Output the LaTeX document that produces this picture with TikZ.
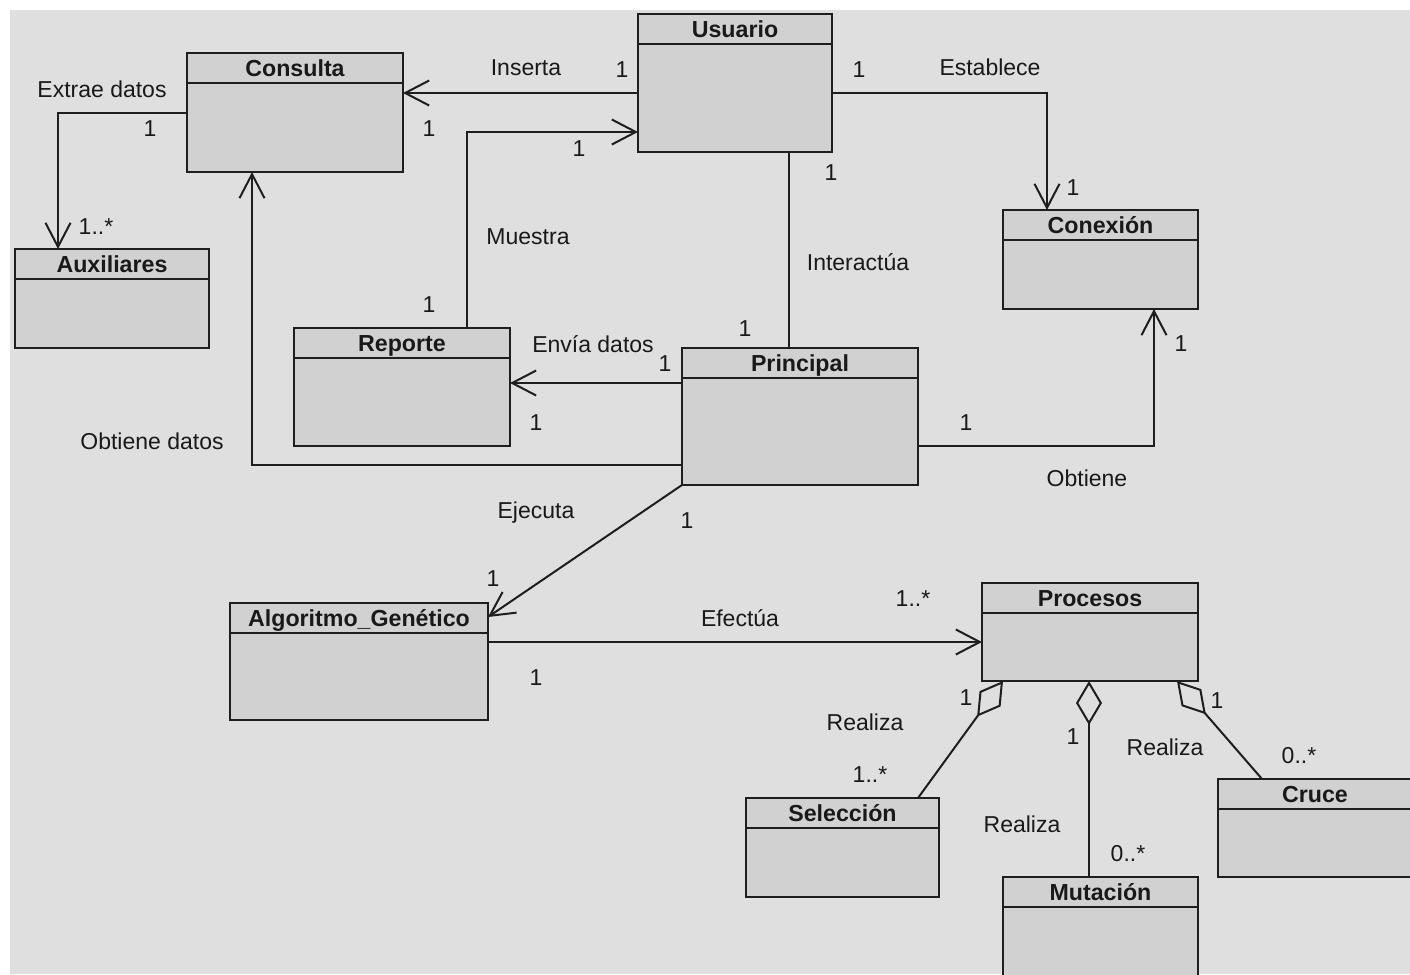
\documentclass[tikz,border=0pt]{standalone}
\usepackage{fontspec}
\setmainfont{Liberation Sans}
\usetikzlibrary{arrows.meta,calc,fit}
\definecolor{canvasgray}{RGB}{223,223,223}
\definecolor{classfill}{RGB}{209,209,209}
\definecolor{inkline}{RGB}{30,30,30}
\definecolor{inktext}{RGB}{25,25,25}

% one UML class: name, x1, y1, x2, y2, title
\newcommand\umlclass[6]{%
  \node[classbox, fit={(#2,#3) (#4,#5)}] (#1) {};
  \draw[classline] ($(#1.north west)+(0,30)$) -- ($(#1.north east)+(0,30)$);
  \node[classtitle] (#1-title) at ($(#1.north)+(0,15)$) {#6};
}

\begin{document}
\begin{tikzpicture}[x=0.5pt,y=-0.5pt,
  classbox/.style={draw=inkline, fill=classfill, line width=1pt, inner sep=0pt, outer sep=0pt},
  classline/.style={draw=inkline, line width=1pt},
  classtitle/.style={font=\fontsize{11.6}{13}\selectfont\bfseries, text=inktext,
    inner sep=0pt, text height=8.3pt, text depth=0pt},
  lbl/.style={font=\fontsize{11.5}{13}\selectfont, text=inktext,
    inner sep=0pt, text height=8.2pt, text depth=0pt},
  assoc/.style={draw=inkline, line width=1pt, -{Straight Barb[length=12pt,width=12.5pt]}},
  link/.style={draw=inkline, line width=1pt},
  aggr/.style={draw=inkline, line width=1pt, -{Diamond[open,length=22pt,width=13pt]}},
]
\useasboundingbox (0,0) rectangle (1410,975);
\clip (0,0) rectangle (1410,975);
\fill[white] (0,0) rectangle (1410,975);
\fill[canvasgray] (10,10) rectangle (1410,974);

% classes
\umlclass{consulta}{187}{53}{403}{172}{Consulta}
\umlclass{auxiliares}{15}{249}{209}{348}{Auxiliares}
\umlclass{usuario}{638}{14}{832}{152}{Usuario}
\umlclass{conexion}{1003}{210}{1198}{309}{Conexión}
\umlclass{reporte}{294}{328}{510}{446}{Reporte}
\umlclass{principal}{682}{348}{918}{485}{Principal}
\umlclass{algoritmo}{230}{603}{488}{720}{Algoritmo\_Genético}
\umlclass{procesos}{982}{583}{1198}{681}{Procesos}
\umlclass{seleccion}{746}{798}{939}{897}{Selección}
\umlclass{mutacion}{1003}{877}{1198}{990}{Mutación}
\umlclass{cruce}{1218}{779}{1412}{877}{Cruce}

% associations
\draw[assoc] (usuario.west |- 0,93) -- (consulta.east |- 0,93);
\draw[assoc] (467,0 |- reporte.north) |- (usuario.west |- 0,132);
\draw[assoc] (consulta.west |- 0,113) -| (58,0 |- auxiliares.north);
\draw[assoc] (usuario.east |- 0,93) -| (1047,0 |- conexion.north);
\draw[link] (789,0 |- usuario.south) -- (789,0 |- principal.north);
\draw[assoc] (principal.west |- 0,383) -- (reporte.east |- 0,383);
\draw[assoc] (principal.west |- 0,465) -| (252,0 |- consulta.south);
\draw[assoc] (principal.east |- 0,446) -| (1154,0 |- conexion.south);
\draw[assoc] (principal.south west) -- (algoritmo.east |- 0,617);
\draw[assoc] (algoritmo.east |- 0,642) -- (procesos.west |- 0,642);

% aggregations
\draw[aggr] (918,0 |- seleccion.north) -- (1003,0 |- procesos.south);
\draw[aggr] (1089,0 |- mutacion.north) -- (1089,0 |- procesos.south);
\draw[aggr] (1262,0 |- cruce.north) -- (1177,0 |- procesos.south);

% role names
\node[lbl] (t-extrae) at (102,89) {Extrae datos};
\node[lbl] (t-inserta) at (526,67) {Inserta};
\node[lbl] (t-muestra) at (528,236) {Muestra};
\node[lbl] (t-establece) at (990,67) {Establece};
\node[lbl] (t-interactua) at (858,262) {Interactúa};
\node[lbl] (t-envia) at (593,344) {Envía datos};
\node[lbl] (t-obtdatos) at (152,441) {Obtiene datos};
\node[lbl] (t-obtiene) at (1087,478) {Obtiene};
\node[lbl] (t-ejecuta) at (536,510) {Ejecuta};
\node[lbl] (t-efectua) at (740,618) {Efectúa};
\node[lbl] (t-realiza1) at (865,722) {Realiza};
\node[lbl] (t-realiza2) at (1165,747) {Realiza};
\node[lbl] (t-realiza3) at (1022,824) {Realiza};

% multiplicities
\node[lbl] (m1) at (150,128) {1};
\node[lbl] (m2) at (96,226) {1..*};
\node[lbl] (m3) at (622,69) {1};
\node[lbl] (m4) at (429,128) {1};
\node[lbl] (m5) at (579,148) {1};
\node[lbl] (m6) at (429,304) {1};
\node[lbl] (m7) at (859,69) {1};
\node[lbl] (m8) at (831,172) {1};
\node[lbl] (m9) at (1073,187) {1};
\node[lbl] (m10) at (745,328) {1};
\node[lbl] (m11) at (665,363) {1};
\node[lbl] (m12) at (536,422) {1};
\node[lbl] (m13) at (1181,343) {1};
\node[lbl] (m14) at (966,422) {1};
\node[lbl] (m15) at (687,520) {1};
\node[lbl] (m16) at (493,578) {1};
\node[lbl] (m17) at (913,598) {1..*};
\node[lbl] (m18) at (536,677) {1};
\node[lbl] (m19) at (966,697) {1};
\node[lbl] (m20) at (870,774) {1..*};
\node[lbl] (m21) at (1073,736) {1};
\node[lbl] (m22) at (1217,700) {1};
\node[lbl] (m23) at (1299,755) {0..*};
\node[lbl] (m24) at (1128,853) {0..*};
\end{tikzpicture}
\end{document}
